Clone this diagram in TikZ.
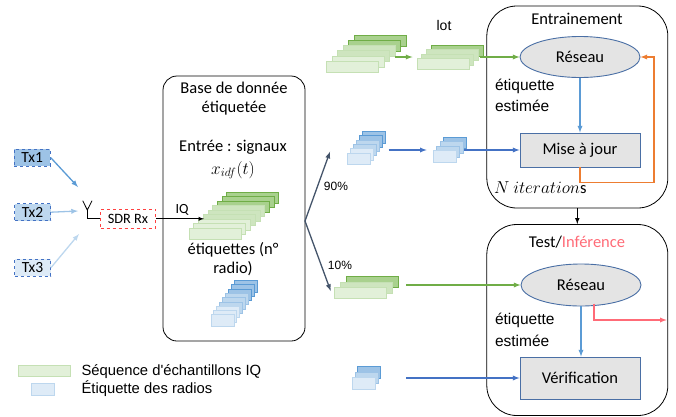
\documentclass[tikz,border=0pt]{standalone}
\usepackage{fontspec}
\usetikzlibrary{shapes.geometric}
\setmainfont{Carlito}
\newfontfamily\arialfont{Liberation Sans}
\definecolor{greenA}{HTML}{E2F0D9}
\definecolor{greenB}{HTML}{C5E0B4}
\definecolor{greenC}{HTML}{A9D18E}
\definecolor{greenD}{HTML}{70AD47}
\definecolor{blueA}{HTML}{DEEBF7}
\definecolor{blueB}{HTML}{BDD7EE}
\definecolor{blueC}{HTML}{9DC3E6}
\definecolor{blueD}{HTML}{5B9BD5}
\definecolor{blueE}{HTML}{4472C4}
\definecolor{slateline}{HTML}{44546A}
\definecolor{boxgray}{HTML}{E4E4E4}
\definecolor{boxline}{HTML}{4A6FA5}
\definecolor{orangeline}{HTML}{ED7D31}
\definecolor{redline}{HTML}{FF6B77}
\tikzset{
  big/.style={font=\fontsize{16.5}{19}\selectfont},
  arial/.style={font=\arialfont\fontsize{15.5}{18}\selectfont},
  small/.style={font=\arialfont\fontsize{12}{14}\selectfont},
  legendtext/.style={font=\arialfont\fontsize{14.8}{17}\selectfont, anchor=west},
  glong/.style={minimum width=52pt, minimum height=11pt, inner sep=0pt, line width=0.9pt},
  bshort/.style={minimum width=23pt, minimum height=11.5pt, inner sep=0pt, line width=0.9pt},
  g1/.style={glong, fill=greenA, draw=greenB},
  g2/.style={glong, fill=greenB!85!white, draw=greenB},
  g3/.style={glong, fill=greenC, draw=greenD},
  b1/.style={bshort, fill=blueA, draw=blueB},
  b2/.style={bshort, fill=blueB, draw=blueC},
  b3/.style={bshort, fill=blueC, draw=blueD},
  txbox/.style={draw=blueE, dashed, line width=0.8pt, inner sep=0pt, minimum width=36pt, minimum height=17pt, font=\fontsize{15.5}{17}\selectfont},
  panel/.style={draw=black, line width=0.8pt},
  grayshape/.style={draw=boxline, fill=boxgray, line width=0.9pt, inner sep=0pt, big},
  tip/.style={>=latex, ->, line width=1.3pt},
}
\begin{document}
\begin{tikzpicture}[x=1pt, y=-1pt]
  \useasboundingbox (0,0) rectangle (676,416);
  % panels
  \node [panel, rounded corners=14pt, minimum width=142pt, minimum height=265pt, inner sep=0pt] (base) at (234,208.5) {};
  \node [panel, rounded corners=30pt, minimum width=181pt, minimum height=202pt, inner sep=0pt] (train) at (577.3,107) {};
  \node [panel, rounded corners=30pt, minimum width=181pt, minimum height=191pt, inner sep=0pt] (test) at (577.3,320) {};
  % transmitters
  \node [txbox, fill=blueC] (tx1) at (32.2,157.5) {Tx1};
  \node [txbox, fill=blueB] (tx2) at (32.5,212.2) {Tx2};
  \node [txbox, fill=blueA] (tx3) at (32.5,267.7) {Tx3};
  \coordinate (a1) at (78,187);
  \coordinate (a2) at (78,211);
  \coordinate (a3) at (79,234);
  \draw [tip, draw=blueD] (tx1.east) -- (a1);
  \draw [tip, draw=blueC] (tx2.east) -- (a2);
  \draw [tip, draw=blueB] (tx3.east) -- (a3);
  % antenna and receiver
  \node [draw=red!75!white, dashed, line width=0.8pt, inner sep=0pt, minimum width=55pt, minimum height=19pt, font=\fontsize{14.3}{16}\selectfont] (sdr) at (128,218.8) {SDR Rx};
  \coordinate (y0) at (87.3,210);
  \coordinate (y1) at (82.7,200.7);
  \coordinate (y2) at (92,200.7);
  \draw [line width=0.8pt] (sdr.west) -| (y0);
  \draw [line width=0.8pt] (y1) -- (y0) -- (y2);
  % large stacks in the database
  \node [g3] (ga9) at (252.8,197.6) {};
  \node [g3] (ga8) at (248.1,202.2) {};
  \node [g3] (ga7) at (243.4,206.7) {};
  \node [g2] (ga6) at (238.7,211.2) {};
  \node [g2] (ga5) at (234,215.7) {};
  \node [g2] (ga4) at (229.3,220.2) {};
  \node [g1] (ga3) at (224.6,224.8) {};
  \node [g1] (ga2) at (219.9,229.3) {};
  \node [g1] (ga1) at (215.2,233.8) {};
  \node [b3] (ba9) at (245.7,286.3) {};
  \node [b3] (ba8) at (242.8,290.6) {};
  \node [b3] (ba7) at (239.9,294.9) {};
  \node [b2] (ba6) at (237,299.1) {};
  \node [b2] (ba5) at (234.1,303.4) {};
  \node [b2] (ba4) at (231.2,307.7) {};
  \node [b1] (ba3) at (228.3,312) {};
  \node [b1] (ba2) at (225.4,316.2) {};
  \node [b1] (ba1) at (222.5,320.5) {};
  \coordinate (iqend) at (204,218.8);
  \draw [>=latex, ->, line width=0.9pt] (sdr.east) -- (iqend);
  \node [font=\fontsize{14}{16}\selectfont] (iq) at (182,210) {IQ};
  % database text
  \node [big] (t1) at (234,88) {Base de donnée};
  \node [big] (t2) at (234,108) {étiquetée};
  \node [big] (t3) at (233,147) {Entrée : signaux};
  \node [big] (t4) at (233,170) {\(x_{idf}(t)\)};
  \node [big] (t5) at (233,250) {étiquettes (n°};
  \node [big] (t6) at (233,269) {radio)};
  % splitting
  \coordinate (split) at (305,221);
  \coordinate (up) at (330,151.7);
  \coordinate (down) at (330.7,291);
  \draw [tip, draw=slateline] (split) -- (up);
  \draw [tip, draw=slateline] (split) -- (down);
  \node [small] (p90) at (336,186.7) {90\%};
  \node [small] (p10) at (340,265) {10\%};
  % training stacks
  \node [g3] (gb6) at (380.5,41) {};
  \node [g3] (gb5) at (374.9,46.2) {};
  \node [g2] (gb4) at (369.3,51.3) {};
  \node [g2] (gb3) at (363.7,56.4) {};
  \node [g1] (gb2) at (358.1,61.6) {};
  \node [g1] (gb1) at (352.5,66.7) {};
  \node [g3] (gc4) at (457,50.8) {};
  \node [g2] (gc3) at (452.3,55.3) {};
  \node [g2] (gc2) at (447.7,59.7) {};
  \node [g1] (gc1) at (443,64.2) {};
  \node [font=\arialfont\fontsize{14}{16}\selectfont] (lot) at (444,25) {lot};
  \node [b3] (bb6) at (373.8,137.2) {};
  \node [b3] (bb5) at (370.8,141.5) {};
  \node [b2] (bb4) at (367.9,145.8) {};
  \node [b2] (bb3) at (364.9,150.1) {};
  \node [b1] (bb2) at (362,154.4) {};
  \node [b1] (bb1) at (359,158.7) {};
  \node [b3] (bc4) at (454.7,143) {};
  \node [b2] (bc3) at (451.6,147.4) {};
  \node [b2] (bc2) at (448.4,151.8) {};
  \node [b1] (bc1) at (445.3,156.2) {};
  % training panel
  \node [big] (ttrain) at (577,19) {Entrainement};
  \node [grayshape, ellipse, minimum width=120pt, minimum height=41pt] (net1) at (580,57) {Réseau};
  \node [grayshape, minimum width=120pt, minimum height=34pt] (maj) at (580,150) {Mise à jour};
  \node [arial, anchor=west] (e1) at (491.5,86) {étiquette};
  \node [arial, anchor=west] (e2) at (491.5,106) {estimée};
  \node [big, anchor=west, inner sep=0pt] (iter) at (494,188) {\(N\ iteration\)s};
  \coordinate (gs0) at (395,57);
  \coordinate (gs1) at (412.5,57);
  \coordinate (gs2) at (480,57);
  \coordinate (bs0) at (388.7,150);
  \coordinate (bs1) at (426.7,150);
  \coordinate (bs2) at (464,150);
  \coordinate (o1) at (654,182.3);
  \draw [tip, draw=greenD] (gs0) -- (gs1);
  \draw [tip, draw=greenD] (gs2) -- (net1.west);
  \draw [tip, draw=blueE] (bs0) -- (bs1);
  \draw [tip, draw=blueE] (bs2) -- (maj.west);
  \draw [tip, draw=blueD] (net1.south) -- (maj.north);
  \draw [tip, draw=orangeline] (maj.south) |- (o1) |- (net1.east);
  \draw [>=latex, ->, line width=1.1pt] (train.south) -- (test.north);
  % test panel
  \node [big] (ttest) at (577,241.7) {Test/\textcolor{redline}{Inférence}};
  \node [grayshape, ellipse, minimum width=120pt, minimum height=42pt] (net2) at (581,285) {Réseau};
  \node [grayshape, minimum width=120pt, minimum height=42pt] (verif) at (580,378) {Vérification};
  \node [arial, anchor=west] (e3) at (491.5,320.7) {étiquette};
  \node [arial, anchor=west] (e4) at (491.5,340.7) {estimée};
  % test stacks
  \node [g3] (gd3) at (372.3,281.8) {};
  \node [g2] (gd2) at (366.5,287.5) {};
  \node [g1] (gd1) at (360.5,293) {};
  \node [b3] (bd3) at (369,372.2) {};
  \node [b2] (bd2) at (366.5,378) {};
  \node [b1] (bd1) at (363.7,383.5) {};
  \coordinate (gs3) at (406,285);
  \coordinate (bs3) at (406,378);
  \coordinate (r0) at (594,303.5);
  \coordinate (r1) at (666.7,320);
  \draw [tip, draw=greenD] (gs3) -- (net2.west);
  \draw [tip, draw=blueE] (bs3) -- (verif.west);
  \draw [tip, draw=blueD] (net2.south) -- (verif.north -| net2.south);
  \draw [tip, draw=redline] (r0) |- (r1);
  % legend
  \node [g1] (lg) at (44,371.3) {};
  \node [b1] (lb) at (43.2,389.3) {};
  \node [legendtext] (lgt) at (78,372) {Séquence d'échantillons IQ};
  \node [legendtext] (lbt) at (78,389) {Étiquette des radios};
\end{tikzpicture}
\end{document}
